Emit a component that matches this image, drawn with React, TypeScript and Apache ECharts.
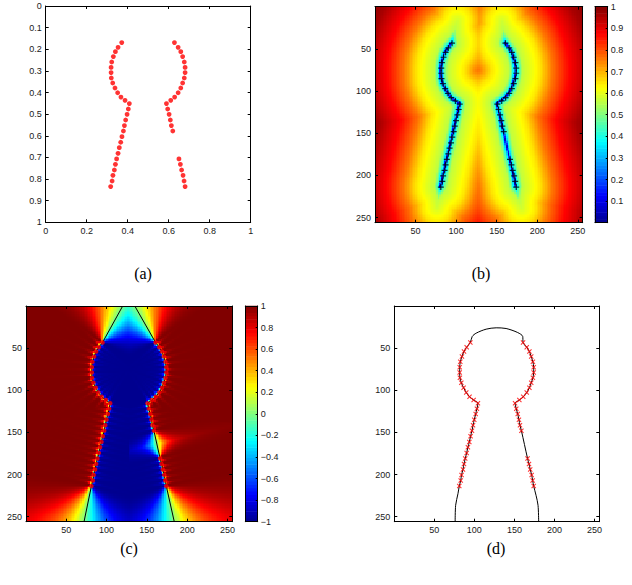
import React, { useEffect, useRef } from "react";
import * as echarts from "echarts";

// ---- Panel (a) data: normalized contour samples [x, y] (y measured downward) ----
const leftArc = [
  [0.371, 0.169], [0.353, 0.191], [0.340, 0.211], [0.330, 0.234], [0.322, 0.259],
  [0.319, 0.284], [0.319, 0.308], [0.320, 0.333], [0.327, 0.356], [0.338, 0.379],
  [0.351, 0.401], [0.367, 0.421], [0.387, 0.436], [0.408, 0.451],
];
const leftLine = [
  [0.403, 0.476], [0.397, 0.501], [0.390, 0.527], [0.384, 0.553], [0.379, 0.578],
  [0.372, 0.604], [0.366, 0.630], [0.359, 0.655], [0.353, 0.681], [0.346, 0.707],
  [0.340, 0.732], [0.335, 0.758], [0.328, 0.783], [0.324, 0.809], [0.317, 0.835],
];
const rightArc = [
  [0.628, 0.169], [0.646, 0.191], [0.659, 0.211], [0.668, 0.234], [0.676, 0.259],
  [0.680, 0.284], [0.680, 0.308], [0.676, 0.333], [0.668, 0.356], [0.659, 0.379],
  [0.646, 0.401], [0.629, 0.421], [0.610, 0.436], [0.589, 0.451],
];
const rightShort = [
  [0.595, 0.476], [0.602, 0.501], [0.608, 0.527], [0.613, 0.553], [0.620, 0.578],
];
const rightLower = [
  [0.650, 0.707], [0.657, 0.732], [0.663, 0.758], [0.670, 0.783], [0.675, 0.809], [0.680, 0.835],
];

// ---- Panel (b): tail tips of the low-distance band (pixel units) and distance->level transfer ----
const bTailTips = [[102, 18], [157, 18], [77, 238], [181, 239]];
const bDist = [0, 1.5, 4, 8, 30, 45, 65, 90, 110];
const bLevel = [0.04, 0.3, 0.45, 0.56, 0.65, 0.76, 0.87, 0.96, 1.0];

// ---- Panel (c): extension line end points at the image border (pixel units) ----
const cTopLeft = [120, 0];
const cBottomLeft = [72, 256];
const cTopRight = [135, 0];
const cBottomRight = [184, 256];

// ---- Panel (d): extra curve points (pixel units) ----
const dBottomLeft = [[76, 256], [76.6, 236.6], [79.5, 222.8]];
const dTopArc = [
  [97.3, 36.2], [102.3, 32.2], [114.7, 27.5], [127.2, 25.9], [139.6, 26.7], [154.1, 31.5], [160.4, 36.2],
];
const dBottomRight = [[177, 224.7], [179.5, 236.6], [180.3, 256]];

// axis tick settings
const pixTickStep = 50;
const unitXStep = 0.2;
const unitYStep = 0.1;
const captions = ["(a)", "(b)", "(c)", "(d)"];

const SPAN = 256;
const N = 128;
const JET = ["#00008F", "#0000FF", "#0080FF", "#00FFFF", "#80FF80", "#FFFF00", "#FF8000", "#FF0000", "#800000"];
const FONT = '"Liberation Sans", Arial, Helvetica, sans-serif';

const toPix = (p: number[]) => [p[0] * SPAN, p[1] * SPAN];

function segDist(px: number, py: number, ax: number, ay: number, bx: number, by: number) {
  const dx = bx - ax, dy = by - ay;
  const l2 = dx * dx + dy * dy;
  let t = l2 > 0 ? ((px - ax) * dx + (py - ay) * dy) / l2 : 0;
  t = t < 0 ? 0 : t > 1 ? 1 : t;
  const qx = ax + t * dx - px, qy = ay + t * dy - py;
  return { d: Math.sqrt(qx * qx + qy * qy), t };
}

function polyDist(px: number, py: number, poly: number[][]) {
  let m = Infinity;
  for (let k = 0; k < poly.length - 1; k++) {
    const r = segDist(px, py, poly[k][0], poly[k][1], poly[k + 1][0], poly[k + 1][1]);
    if (r.d < m) m = r.d;
  }
  return m;
}

function inside(px: number, py: number, poly: number[][]) {
  let c = false;
  for (let i = 0, j = poly.length - 1; i < poly.length; j = i++) {
    const xi = poly[i][0], yi = poly[i][1], xj = poly[j][0], yj = poly[j][1];
    if (yi > py !== yj > py && px < ((xj - xi) * (py - yi)) / (yj - yi) + xi) c = !c;
  }
  return c;
}

function interp(d: number) {
  if (d >= bDist[bDist.length - 1]) return bLevel[bLevel.length - 1];
  for (let k = 0; k < bDist.length - 1; k++) {
    if (d <= bDist[k + 1]) {
      const f = (d - bDist[k]) / (bDist[k + 1] - bDist[k]);
      return bLevel[k] + f * (bLevel[k + 1] - bLevel[k]);
    }
  }
  return 1;
}

function buildOption() {
  const leftChain = [...leftArc, ...leftLine].map(toPix);
  const rightChain = [...rightArc, ...rightShort, ...rightLower].map(toPix);
  const allPix = [...leftChain, ...rightChain];
  const allUnit = [...leftArc, ...leftLine, ...rightArc, ...rightShort, ...rightLower];

  const tails = [
    [leftChain[0], bTailTips[0]],
    [rightChain[0], bTailTips[1]],
    [leftChain[leftChain.length - 1], bTailTips[2]],
    [rightChain[rightChain.length - 1], bTailTips[3]],
  ];
  const cLeft = [cTopLeft, ...leftChain, cBottomLeft];
  const cRight = [cTopRight, ...rightChain, cBottomRight];
  const cPoly = [...cLeft, ...[...cRight].reverse()];

  const cs = SPAN / N;
  const bData: number[][] = [];
  const cData: number[][] = [];
  for (let j = 0; j < N; j++) {
    const py = (j + 0.5) * cs;
    for (let i = 0; i < N; i++) {
      const px = (i + 0.5) * cs;
      // (b) distance map
      let d = Math.min(polyDist(px, py, leftChain), polyDist(px, py, rightChain));
      for (const tl of tails) {
        const r = segDist(px, py, tl[0][0], tl[0][1], tl[1][0], tl[1][1]);
        const dd = r.d + 12 * r.t;
        if (dd < d) d = dd;
      }
      bData.push([px, py, interp(d)]);
      // (c) signed ratio map
      const sd = Math.min(polyDist(px, py, cLeft), polyDist(px, py, cRight));
      let dp = Infinity;
      for (const p of allPix) {
        const e = Math.hypot(p[0] - px, p[1] - py);
        if (e < dp) dp = e;
      }
      let v = dp > 1e-6 ? sd / dp : 0;
      if (v > 1) v = 1;
      if (inside(px, py, cPoly)) v = -v;
      cData.push([px, py, v]);
    }
  }

  const BAR_N = 64;
  const barCats = Array.from({ length: BAR_N }, (_, k) => String(k));

  const grid: any[] = [];
  const xAxis: any[] = [];
  const yAxis: any[] = [];
  const series: any[] = [];

  const addGrid = (r: any) => {
    grid.push({ ...r, containLabel: false, outerBoundsMode: "none", show: false });
    return grid.length - 1;
  };
  const vAxis = (o: any) => ({
    type: "value",
    gridIndex: o.gi,
    position: o.pos,
    min: o.min,
    max: o.max,
    interval: o.interval,
    inverse: !!o.inverse,
    z: 5,
    splitLine: { show: false },
    axisLine: { show: true, onZero: false, lineStyle: { color: "#000", width: 1 } },
    axisTick: { show: o.ticks !== false, inside: true, length: o.tickLen ?? 3, lineStyle: { color: "#000", width: 1 } },
    axisLabel: {
      show: !!o.labels,
      color: "#1a1a1a",
      fontSize: 9,
      fontFamily: FONT,
      margin: o.margin ?? 4,
      showMinLabel: o.showMin,
      showMaxLabel: o.showMax,
      formatter: o.fmt,
    },
  });
  const box = (gi: number, xr: any, yr: any) => {
    const xi = xAxis.length;
    xAxis.push(vAxis({ gi, pos: "bottom", ...xr, labels: xr.labels }));
    xAxis.push(vAxis({ gi, pos: "top", ...xr, labels: false }));
    const yi = yAxis.length;
    yAxis.push(vAxis({ gi, pos: "left", ...yr, labels: yr.labels }));
    yAxis.push(vAxis({ gi, pos: "right", ...yr, labels: false }));
    return { xi, yi };
  };
  const catGrid = (gi: number, xc: string[], yc: string[]) => {
    const xi = xAxis.length;
    xAxis.push({ type: "category", gridIndex: gi, data: xc, show: false });
    const yi = yAxis.length;
    yAxis.push({ type: "category", gridIndex: gi, data: yc, show: false });
    return { xi, yi };
  };
  const cellRender = (params: any, api: any) => {
    const x = api.value(0), y = api.value(1);
    const p0 = api.coord([x - cs / 2, y - cs / 2]);
    const p1 = api.coord([x + cs / 2, y + cs / 2]);
    const l = Math.floor(Math.min(p0[0], p1[0]));
    const r = Math.ceil(Math.max(p0[0], p1[0]));
    const t = Math.floor(Math.min(p0[1], p1[1]));
    const b = Math.ceil(Math.max(p0[1], p1[1]));
    return { type: "rect", shape: { x: l, y: t, width: r - l, height: b - t }, style: { fill: api.visual("color") } };
  };
  const pixAxis = { min: 0, max: SPAN, interval: pixTickStep, labels: true, showMin: false, showMax: false };
  const pixAxisY = { ...pixAxis, inverse: true };

  // ---- (a) ----
  const gA = addGrid({ left: 45.7, top: 6, width: 205, height: 216.3 });
  const aAx = box(gA, { min: 0, max: 1, interval: unitXStep, labels: true, showMin: true, showMax: true },
    { min: 0, max: 1, interval: unitYStep, labels: true, inverse: true, showMin: true, showMax: true });
  series.push({
    type: "scatter", xAxisIndex: aAx.xi, yAxisIndex: aAx.yi, data: allUnit, symbol: "circle", symbolSize: 4.8,
    itemStyle: { color: "#ff0000" }, z: 6, silent: true,
  });

  // ---- (b) ----
  const gB = addGrid({ left: 375, top: 6.7, width: 207.7, height: 216 });
  const bAx = box(gB, pixAxis, pixAxisY);
  const bHeatIdx = series.length;
  series.push({
    type: "custom", xAxisIndex: bAx.xi, yAxisIndex: bAx.yi, data: bData, renderItem: cellRender,
    encode: { x: 0, y: 1 }, clip: true, silent: true, z: 1, progressive: 0,
  });
  series.push({
    type: "scatter", xAxisIndex: bAx.xi, yAxisIndex: bAx.yi, data: allPix,
    symbol: "path://M4,0H6V4H10V6H6V10H4V6H0V4H4Z", symbolSize: 6, itemStyle: { color: "#000" }, z: 6, silent: true,
  });
  const bBarRect = { left: 595, top: 6.7, width: 12.7, height: 216 };
  const gBb = addGrid(bBarRect);
  const bB = catGrid(gBb, ["0"], barCats);
  const bBarIdx = series.length;
  series.push({
    type: "heatmap", xAxisIndex: bB.xi, yAxisIndex: bB.yi, progressive: 0, silent: true, z: 1,
    data: barCats.map((_, k) => [0, k, (k + 0.5) / BAR_N]),
  });
  const gBbv = addGrid(bBarRect);
  xAxis.push(vAxis({ gi: gBbv, pos: "bottom", min: 0, max: 1, ticks: false, labels: false }));
  xAxis.push(vAxis({ gi: gBbv, pos: "top", min: 0, max: 1, ticks: false, labels: false }));
  yAxis.push(vAxis({ gi: gBbv, pos: "left", min: 0, max: 1, ticks: false, labels: false }));
  yAxis.push(vAxis({ gi: gBbv, pos: "right", min: 0, max: 1, interval: 0.1, labels: true, showMin: false, showMax: true, tickLen: 2, margin: 3 }));

  // ---- (c) ----
  const gC = addGrid({ left: 26, top: 306, width: 206.3, height: 215.7 });
  const cAx = box(gC, pixAxis, pixAxisY);
  const cHeatIdx = series.length;
  series.push({
    type: "custom", xAxisIndex: cAx.xi, yAxisIndex: cAx.yi, data: cData, renderItem: cellRender,
    encode: { x: 0, y: 1 }, clip: true, silent: true, z: 1, progressive: 0,
  });
  for (const pl of [cLeft, cRight]) {
    series.push({
      type: "line", xAxisIndex: cAx.xi, yAxisIndex: cAx.yi, data: pl, symbol: "none",
      lineStyle: { color: "#000", width: 1 }, z: 5, silent: true,
    });
  }
  series.push({
    type: "scatter", xAxisIndex: cAx.xi, yAxisIndex: cAx.yi, data: allPix, symbol: "circle", symbolSize: 4.5,
    itemStyle: { color: "#ff0000" }, z: 6, silent: true,
  });
  const cBarRect = { left: 245.3, top: 306, width: 12.4, height: 215.7 };
  const gCb = addGrid(cBarRect);
  const cB = catGrid(gCb, ["0"], barCats);
  const cBarIdx = series.length;
  series.push({
    type: "heatmap", xAxisIndex: cB.xi, yAxisIndex: cB.yi, progressive: 0, silent: true, z: 1,
    data: barCats.map((_, k) => [0, k, -1 + (2 * (k + 0.5)) / BAR_N]),
  });
  const gCbv = addGrid(cBarRect);
  xAxis.push(vAxis({ gi: gCbv, pos: "bottom", min: 0, max: 1, ticks: false, labels: false }));
  xAxis.push(vAxis({ gi: gCbv, pos: "top", min: 0, max: 1, ticks: false, labels: false }));
  yAxis.push(vAxis({ gi: gCbv, pos: "left", min: -1, max: 1, ticks: false, labels: false }));
  yAxis.push(vAxis({
    gi: gCbv, pos: "right", min: -1, max: 1, interval: 0.2, labels: true, showMin: true, showMax: true, tickLen: 2, margin: 3,
    fmt: (v: number) => String(Math.round(v * 10) / 10).replace("-", "\u2212"),
  }));

  // ---- (d) ----
  const gD = addGrid({ left: 394.3, top: 306, width: 205, height: 215.7 });
  const dAx = box(gD, pixAxis, pixAxisY);
  const dCurve = [
    ...dBottomLeft,
    ...[...leftChain].reverse(),
    ...dTopArc,
    ...rightChain,
    ...dBottomRight,
  ];
  series.push({
    type: "line", xAxisIndex: dAx.xi, yAxisIndex: dAx.yi, data: dCurve, symbol: "none", smooth: 0.3,
    lineStyle: { color: "#000", width: 1 }, z: 4, silent: true,
  });
  series.push({
    type: "scatter", xAxisIndex: dAx.xi, yAxisIndex: dAx.yi, data: allPix,
    symbol: "path://M0,1.5L1.5,0L5,3.5L8.5,0L10,1.5L6.5,5L10,8.5L8.5,10L5,6.5L1.5,10L0,8.5L3.5,5Z",
    symbolSize: 5, itemStyle: { color: "#ff0000" }, z: 6, silent: true,
  });

  const capPos = [[143, 273], [481, 273], [129, 548], [496, 548]];
  const graphic = captions.map((t, k) => ({
    type: "text", x: capPos[k][0], y: capPos[k][1], silent: true,
    style: { text: t, font: '16px "Liberation Serif", "Times New Roman", serif', fill: "#000", textAlign: "center", textVerticalAlign: "middle" },
  }));

  return {
    animation: false,
    backgroundColor: "#fff",
    grid, xAxis, yAxis, series, graphic,
    visualMap: [
      { type: "continuous", show: false, min: 0, max: 1, dimension: 2, seriesIndex: [bHeatIdx, bBarIdx], inRange: { color: JET } },
      { type: "continuous", show: false, min: -1, max: 1, dimension: 2, seriesIndex: [cHeatIdx, cBarIdx], inRange: { color: JET } },
    ],
  };
}

export default function App() {
  const ref = useRef<HTMLDivElement>(null);
  useEffect(() => {
    const chart = echarts.init(ref.current as HTMLDivElement, null, { renderer: "svg" });
    chart.setOption(buildOption() as any);
    return () => chart.dispose();
  }, []);
  return <div ref={ref} style={{ position: "fixed", left: 0, top: 0, width: 632, height: 585, background: "#fff" }} />;
}
